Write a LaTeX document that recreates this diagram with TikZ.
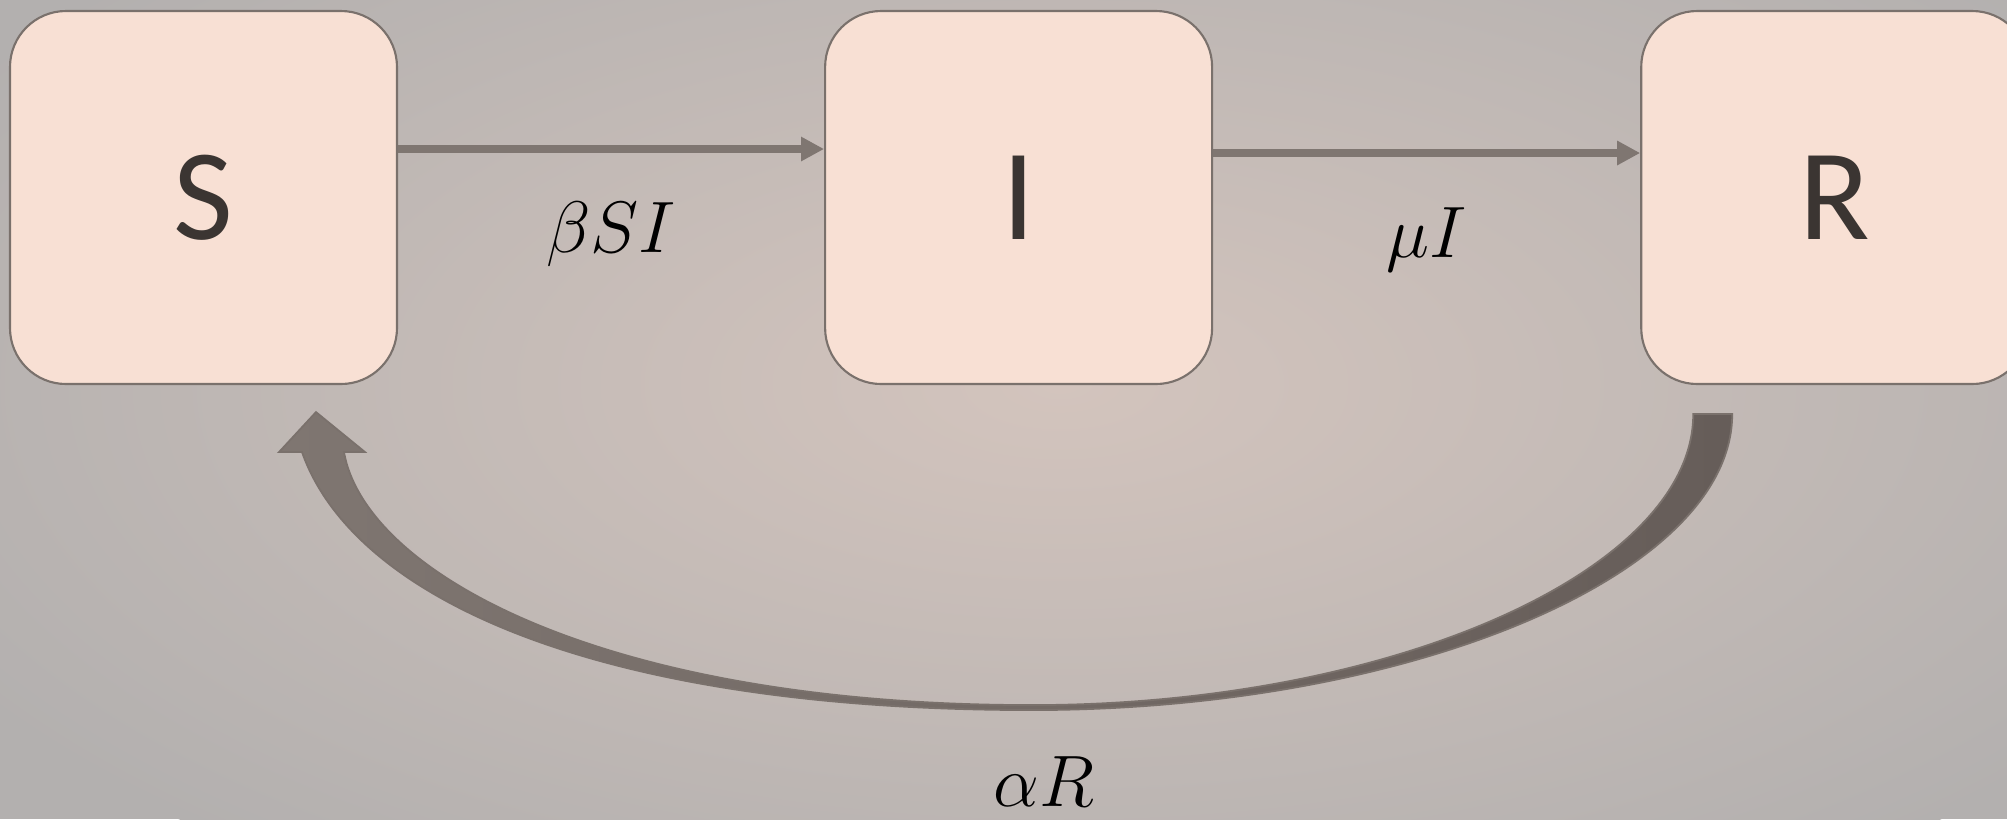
\documentclass[tikz,border=0pt]{standalone}
\usepackage{fontspec}
\setmainfont{Carlito}
\usetikzlibrary{positioning, arrows.meta}

\definecolor{boxfill}{HTML}{F8E0D4}
\definecolor{boxline}{HTML}{7A716C}
\definecolor{flowgrey}{HTML}{7F7671}
\definecolor{backdark}{HTML}{665D59}
\definecolor{bggrey}{HTML}{B3B0AF}
\definecolor{bglight}{HTML}{D3C4BD}
\definecolor{lettergrey}{HTML}{3B3532}

\begin{document}
\begin{tikzpicture}[node distance = 4.26cm,
  state/.style={draw=boxline, fill=boxfill, line width=0.6pt, rounded corners=0.56cm, minimum width=3.87cm, minimum height=3.73cm, font=\fontsize{37}{44}\selectfont, text=lettergrey},
  flow/.style={draw=flowgrey, line width=0.08cm, -{Triangle[length=0.23cm, width=0.23cm]}},
  rate/.style={font=\fontsize{19.5}{24}\selectfont, text=black},
  backflow/.style={left color=flowgrey, right color=backdark, draw=boxline, line width=0.5pt}]

  \useasboundingbox (0,0) rectangle (20.07,-8.19);
  \clip (0,0) rectangle (20.07,-8.19);
  \fill[bggrey] (0,0) rectangle (20.07,-8.19);
  \shade[inner color=bglight, outer color=bggrey] (10.6,-3.84) ellipse (12.8 and 6);

  \node[state] (S) at (2.035,-1.975) {S};
  \node[state, right=of S] (I) {I};
  \node[state, right=4.27cm of I] (R) {R};

  \draw [flow] ([yshift=0.485cm]S.east) -- ([yshift=0.485cm]I.west) node [rate, midway, below=0.37cm] (infect) {$\beta SI$};
  \draw [flow] ([yshift=0.445cm]I.east) -- ([yshift=0.445cm]R.west) node [rate, midway, below=0.39cm] (recover) {$\mu I$};

  \coordinate (rin) at ([xshift=-1.415cm, yshift=-0.29cm]R.south);
  \coordinate (rout) at ([xshift=-1.025cm, yshift=-0.29cm]R.south);
  \coordinate (bout) at ([xshift=0.135cm, yshift=-3.25cm]I.south);
  \coordinate (bin) at ([xshift=0.135cm, yshift=-3.20cm]I.south);
  \coordinate (souter) at ([xshift=0.985cm, yshift=-0.67cm]S.south);
  \coordinate (sinner) at ([xshift=1.405cm, yshift=-0.67cm]S.south);
  \coordinate (headl) at ([xshift=0.755cm, yshift=-0.67cm]S.south);
  \coordinate (headr) at ([xshift=1.615cm, yshift=-0.67cm]S.south);
  \coordinate (tip) at ([xshift=1.125cm, yshift=-0.27cm]S.south);

  \shadedraw[backflow] (rin) -- (rout)
    .. controls +(0,-1.60) and +(3.80,0) .. (bout)
    .. controls +(-4.5,0) and +(0.49,-1.40) .. (souter)
    -- (headl) -- (tip) -- (headr) -- (sinner)
    .. controls +(0.21,-1.20) and +(-4.30,0) .. (bin)
    .. controls +(3.58,0) and +(0,-1.57) .. (rin) -- cycle;

  \node[rate, below=0.34cm of bout, xshift=0.12cm] (wane) {$\alpha R$};
\end{tikzpicture}
\end{document}
